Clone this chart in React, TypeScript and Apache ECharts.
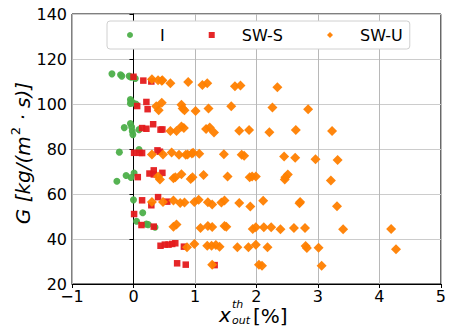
import React, { useEffect, useRef } from "react";
import * as echarts from "echarts";

const xTicks = [-1, 0, 1, 2, 3, 4, 5];
const yTicks = [20, 40, 60, 80, 100, 120, 140];
const seriesNames = ["I", "SW-S", "SW-U"];
const seriesColors = ["#4daf4a", "#e41a1c", "#ff7f00"];

const iData = [
  [-0.35, 113.4], [-0.21, 113.0], [-0.19, 112.4], [-0.07, 112.4], [-0.04, 111.9], [0.03, 111.3],
  [-0.05, 102.0], [-0.04, 101.2], [-0.05, 100.2], [-0.01, 100.5], [0.04, 100.0],
  [-0.15, 89.5], [-0.05, 91.3], [-0.03, 89.8], [-0.02, 88.0], [-0.01, 86.4], [0.09, 88.6],
  [-0.23, 78.6], [0.09, 79.8],
  [-0.27, 65.7], [-0.12, 68.2], [-0.04, 67.3], [0.01, 69.3],
  [0.0, 57.4], [0.15, 51.7], [0.05, 47.9], [0.21, 46.6], [0.24, 46.4], [0.35, 45.2],
];

const swsData = [
  [0.0, 112.1], [0.16, 110.4], [0.29, 110.0],
  [0.06, 99.1], [0.21, 100.9], [0.23, 97.7],
  [0.14, 89.3], [0.21, 89.0], [0.32, 91.0], [0.44, 88.6], [0.47, 88.7],
  [0.01, 78.3], [0.1, 78.3], [0.14, 78.2], [0.39, 79.4], [0.43, 78.8],
  [0.07, 67.5], [0.26, 69.1], [0.33, 70.5], [0.33, 68.7], [0.47, 69.4],
  [0.14, 57.2], [0.4, 58.6], [0.55, 56.6], [0.29, 55.0],
  [0.01, 51.1],
  [0.13, 46.2], [0.33, 45.5],
  [0.44, 37.0], [0.51, 37.5], [0.57, 37.5], [0.63, 37.8], [0.68, 38.1], [0.82, 36.6],
  [0.71, 29.2], [0.85, 28.6], [1.32, 28.4],
];

const swuData = [
  [0.3, 111.0], [0.4, 110.6], [0.46, 110.3], [0.47, 110.6], [0.6, 109.2], [0.89, 109.8], [1.12, 108.5], [1.2, 109.2], [1.65, 107.9], [1.74, 108.2], [2.34, 107.5],
  [0.37, 99.0], [0.41, 97.2], [0.46, 100.6], [0.78, 99.7], [0.8, 98.0], [0.83, 97.2], [1.01, 96.9], [1.22, 98.0], [1.59, 99.0], [2.26, 98.4], [2.84, 97.7],
  [0.6, 88.0], [0.7, 88.0], [0.78, 90.0], [0.82, 89.3], [1.18, 88.9], [1.24, 89.6], [1.31, 87.3], [1.72, 88.1], [1.88, 88.4], [2.21, 87.4], [2.64, 88.4], [3.23, 88.0],
  [0.3, 77.6], [0.48, 77.6], [0.62, 78.5], [0.74, 77.4], [0.85, 77.4], [0.88, 77.6], [0.95, 78.0], [0.97, 78.3], [1.07, 77.9], [1.47, 77.7], [1.76, 77.4], [1.8, 77.0], [2.45, 76.7], [2.63, 76.1], [2.96, 75.5], [3.32, 75.1],
  [0.4, 67.8], [0.43, 66.4], [0.65, 67.0], [0.68, 67.5], [0.78, 68.8], [0.93, 66.7], [0.96, 67.5], [1.14, 68.4], [1.53, 67.8], [1.89, 67.5], [1.93, 67.8], [1.99, 67.8], [2.46, 66.4], [2.47, 67.5], [2.51, 68.7], [3.21, 66.0],
  [0.3, 56.5], [0.48, 56.5], [0.65, 57.1], [0.76, 56.0], [0.83, 56.2], [0.99, 56.5], [1.06, 57.4], [1.21, 56.3], [1.28, 55.3], [1.43, 56.2], [1.48, 57.1], [1.72, 56.0], [1.9, 54.4], [2.11, 57.0], [2.7, 55.9], [2.71, 56.5], [3.31, 54.6],
  [0.65, 45.5], [0.7, 46.4], [1.09, 44.9], [1.21, 45.8], [1.28, 45.3], [1.48, 45.8], [1.51, 45.5], [1.94, 44.5], [1.99, 45.2], [2.12, 45.2], [2.24, 45.2], [2.39, 44.3], [2.61, 44.9], [2.79, 44.9], [3.41, 44.3], [4.19, 44.5],
  [0.87, 36.3], [0.99, 37.8], [1.2, 37.0], [1.27, 37.0], [1.34, 37.3], [1.4, 36.6], [1.69, 36.3], [1.87, 36.3], [1.99, 37.5], [2.18, 36.3], [2.8, 36.9], [2.82, 36.0], [3.01, 36.1], [4.27, 35.5],
  [1.28, 28.6], [2.04, 28.6], [2.09, 28.1], [3.06, 28.1],
];

const FONT = "DejaVu Sans";

export default function App() {
  const ref = useRef<HTMLDivElement>(null);
  useEffect(() => {
    if (!ref.current) return;
    const chart = echarts.init(ref.current, null, { renderer: "svg" });
    const fmt = (v: number) => (v < 0 ? "\u2212" + Math.abs(v) : String(v));
    chart.setOption({
      animation: false,
      backgroundColor: "#ffffff",
      grid: {
        left: 72,
        right: 3,
        top: 14,
        bottom: 48,
        show: true,
        borderColor: "#000",
        borderWidth: 1,
        backgroundColor: "transparent",
      },
      legend: {
        left: 107,
        top: 21,
        orient: "horizontal",
        data: [
          { name: seriesNames[0], icon: "circle" },
          { name: seriesNames[1], icon: "rect" },
          { name: seriesNames[2], icon: "diamond" },
        ],
        itemWidth: 6,
        itemHeight: 6,
        itemGap: 44,
        padding: [6, 7, 6, 20],
        backgroundColor: "#ffffff",
        borderColor: "#d0d0d0",
        borderWidth: 1,
        borderRadius: 3,
        textStyle: {
          fontFamily: FONT,
          fontSize: 16,
          color: "#000",
          padding: [0, 0, 0, 22],
        },
      },
      xAxis: {
        type: "value",
        min: xTicks[0],
        max: xTicks[xTicks.length - 1],
        interval: 1,
        axisLine: { show: true, lineStyle: { color: "#000", width: 1 } },
        axisTick: { show: true, inside: false, length: 4, lineStyle: { color: "#000" } },
        axisLabel: { fontFamily: FONT, fontSize: 16, lineHeight: 14, color: "#000", margin: 5, formatter: fmt },
        splitLine: { show: true, lineStyle: { color: "#b8b8b8", width: 1 } },
      },
      yAxis: {
        type: "value",
        min: yTicks[0],
        max: yTicks[yTicks.length - 1],
        interval: 20,
        axisLine: { show: true, lineStyle: { color: "#000", width: 1 } },
        axisTick: { show: true, inside: false, length: 4, lineStyle: { color: "#000" } },
        axisLabel: { fontFamily: FONT, fontSize: 16, lineHeight: 10, color: "#000", margin: 5, formatter: fmt },
        splitLine: { show: true, lineStyle: { color: "#cccccc", width: 1.2 } },
      },
      series: [
        {
          name: seriesNames[0],
          type: "scatter",
          data: iData,
          symbol: "circle",
          symbolSize: 7,
          itemStyle: { color: seriesColors[0], opacity: 0.95 },
          z: 2,
        },
        {
          name: seriesNames[1],
          type: "scatter",
          data: swsData,
          symbol: "rect",
          symbolSize: 6.5,
          itemStyle: { color: seriesColors[1], opacity: 0.95 },
          z: 3,
        },
        {
          name: seriesNames[2],
          type: "scatter",
          data: swuData,
          symbol: "diamond",
          symbolSize: 10,
          itemStyle: { color: seriesColors[2], opacity: 0.95 },
          z: 4,
        },
      ],
      graphic: [
        {
          type: "text",
          x: 21,
          y: 153,
          rotation: Math.PI / 2,
          style: {
            text: "{a|G [kg/(m}{s|2}{a| \u00b7 s)]}",
            textAlign: "center",
            textVerticalAlign: "middle",
            fill: "#000",
            rich: {
              a: { fontFamily: FONT, fontStyle: "italic", fontSize: 20, lineHeight: 24, verticalAlign: "bottom" },
              s: { fontFamily: FONT, fontSize: 13, lineHeight: 24, verticalAlign: "top", padding: [0, 0, 8, 1] },
            },
          },
        },
        {
          type: "text",
          x: 219,
          y: 315,
          style: {
            text: "x",
            font: "italic 20px DejaVu Sans",
            fill: "#000",
            textAlign: "left",
            textVerticalAlign: "middle",
          },
        },
        {
          type: "text",
          x: 232,
          y: 304,
          style: {
            text: "th",
            font: "italic 11px DejaVu Sans",
            fill: "#000",
            textAlign: "left",
            textVerticalAlign: "middle",
          },
        },
        {
          type: "text",
          x: 232,
          y: 320,
          style: {
            text: "out",
            font: "italic 11px DejaVu Sans",
            fill: "#000",
            textAlign: "left",
            textVerticalAlign: "middle",
          },
        },
        {
          type: "text",
          x: 253,
          y: 316,
          style: {
            text: "[%]",
            font: "20px DejaVu Sans",
            lineHeight: 18,
            fill: "#000",
            textAlign: "left",
            textVerticalAlign: "middle",
          },
        },
      ],
    });
    return () => chart.dispose();
  }, []);
  return (
    <div
      ref={ref}
      style={{ position: "fixed", left: 0, top: 0, width: 449, height: 332, background: "#fff" }}
    />
  );
}
